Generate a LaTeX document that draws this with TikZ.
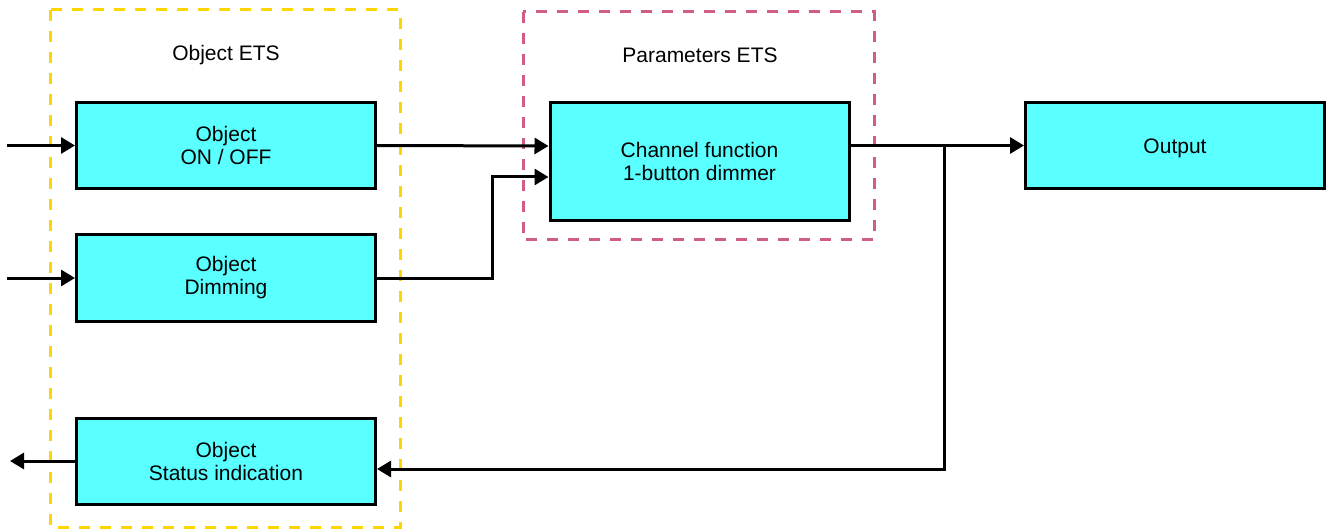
\documentclass[tikz,border=0pt]{standalone}
\usepackage{fontspec}
\setmainfont{Liberation Sans}
\usetikzlibrary{arrows.meta}
\definecolor{boxcyan}{RGB}{90,255,255}
\definecolor{etsyellow}{RGB}{255,213,0}
\definecolor{etspink}{RGB}{208,92,136}
\tikzset{
	block/.style    = {shape=rectangle, draw, line width=3pt,
		fill=boxcyan, align=center, inner sep=0pt,
		minimum width=299pt, minimum height=86pt},
	frame/.style    = {draw, line width=3pt, dash pattern=on 11pt off 10pt},
	wire/.style     = {draw, line width=3pt},
	link/.style     = {wire, -{Triangle[length=14pt,width=16pt]}},
	title/.style    = {inner sep=0pt}
}

\begin{document}
\begin{tikzpicture}
[
x = 1pt, y = -1pt,
every node/.style = {font=\fontsize{21}{23}\selectfont}
]
\useasboundingbox (0,0) rectangle (1329,529);
% groups
\draw [frame, etsyellow] (50,10) rectangle (400,527);
\draw [frame, etspink] (523,12) rectangle (874,240);
\node [title] (objets) at (226,55) {Object ETS};
\node [title] (parets) at (700,55) {Parameters ETS};
% blocks
\node [block] (onoff)  at (226,145.5) {Object\\ON / OFF};
\node [block] (dim)    at (226,278)   {Object\\Dimming};
\node [block] (status) at (226,461)   {Object\\Status indication};
\node [block, minimum height=118pt] (chan) at (699.5,161.5) {Channel function\\1-button dimmer};
\node [block, text height=21pt] (out) at (1175,145.5) {Output};
% free ends
\coordinate (in1)   at (7,0);
\coordinate (in2)   at (7,0);
\coordinate (back)  at (10,0);
\coordinate (bend)  at (492,0);
\coordinate (split) at (944,146);
% connectors
\draw [link] (in1 |- onoff.west) -- (onoff.west);
\draw [link] (in2 |- dim.west) -- (dim.west);
\draw [link] (status.west) -- (back |- status.west);
\draw [link] (onoff.east) -- ([yshift=15.5pt]chan.west);
\draw [link] (dim.east) -- (dim.east -| bend) |- ([yshift=-15.5pt]chan.west);
\draw [link] (chan.east |- out.west) -- (out.west);
\draw [link] (split) |- ([yshift=-8pt]status.east);
\end{tikzpicture}
\end{document}
